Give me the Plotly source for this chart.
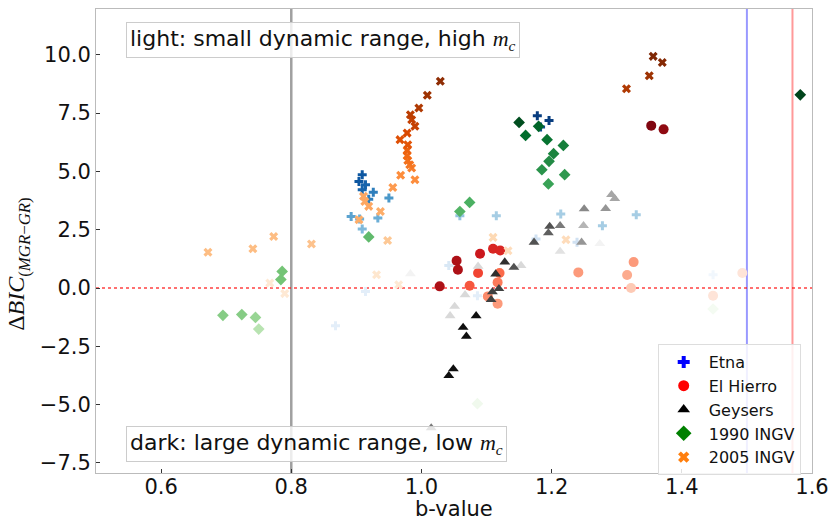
import plotly.graph_objects as go

# ---------------- data ----------------
etna_b = [1.178, 1.196, 1.183, 0.909, 0.904, 0.914, 0.909, 0.926, 0.919, 0.950, 0.892, 0.905, 0.933,
          0.909, 1.059, 1.115, 1.214, 1.278, 1.330, 1.176, 1.239, 1.042, 0.914, 0.868, 1.086, 1.448]
etna_d = [7.38, 7.18, 6.90, 4.86, 4.57, 4.43, 4.21, 4.10, 3.81, 3.86, 3.07, 2.96, 3.00,
          2.53, 3.10, 3.10, 3.17, 2.67, 3.14, 2.10, 1.96, 0.96, -0.15, -1.62, -0.33, 0.57]
etna_s = [0.95, 0.95, 0.9, 0.85, 0.85, 0.8, 0.8, 0.7, 0.7, 0.6, 0.55, 0.5, 0.5,
          0.45, 0.4, 0.35, 0.35, 0.35, 0.35, 0.2, 0.2, 0.15, 0.1, 0.1, 0.1, 0.03]

hierro_b = [1.353, 1.372, 1.054, 1.056, 1.028, 1.090, 1.110, 1.121, 1.087, 1.074, 1.120, 1.117, 1.102,
            1.117, 1.326, 1.241, 1.316, 1.322, 1.493, 1.448]
hierro_d = [6.96, 6.80, 1.17, 0.78, 0.07, 1.47, 1.68, 1.61, 0.64, 0.10, 0.64, 0.24, -0.36,
            -0.67, 1.11, 0.67, 0.56, 0.00, 0.64, -0.33]
hierro_s = [0.95, 0.92, 0.85, 0.85, 0.85, 0.75, 0.7, 0.7, 0.6, 0.55, 0.5, 0.45, 0.4,
            0.35, 0.35, 0.35, 0.3, 0.2, 0.1, 0.1]

geys_b = [1.049, 1.042, 1.084, 1.064, 1.069, 1.128, 1.114, 1.119, 1.109, 1.107, 1.142, 1.173, 1.197,
          1.195, 1.015, 1.213, 1.250, 1.283, 1.292, 1.297, 1.246, 1.249, 1.153, 1.087, 1.067, 1.051,
          1.044, 1.213, 1.274, 0.983]
geys_d = [-3.47, -3.76, -1.19, -1.69, -2.07, 1.11, 0.60, -0.03, -0.17, -0.50, 0.88, 1.96, 2.64,
          2.36, -6.0, 2.67, 3.39, 3.40, 4.00, 3.83, 1.96, 2.67, 0.96, 0.93, -0.29, -0.79,
          -1.19, 1.57, 1.90, 0.61]
geys_s = [0.95, 0.95, 0.95, 0.95, 0.95, 0.85, 0.85, 0.8, 0.8, 0.8, 0.75, 0.75, 0.75,
          0.7, 0.6, 0.6, 0.55, 0.5, 0.45, 0.45, 0.5, 0.4, 0.25, 0.25, 0.25, 0.25,
          0.25, 0.2, 0.1, 0.1]

ingv90_b = [1.582, 1.150, 1.180, 1.160, 1.193, 1.218, 1.203, 1.196, 1.185, 1.220, 1.195, 1.074, 1.059,
            0.919, 0.786, 0.784, 0.695, 0.724, 0.745, 0.750, 1.086, 1.448]
ingv90_d = [8.28, 7.10, 6.93, 6.54, 6.36, 6.11, 5.76, 5.43, 5.07, 4.86, 4.46, 3.67, 3.28,
            2.19, 0.71, 0.36, -1.17, -1.14, -1.26, -1.76, -4.96, -0.90]
ingv90_s = [1.0, 0.97, 0.9, 0.87, 0.85, 0.8, 0.78, 0.75, 0.72, 0.7, 0.66, 0.6, 0.58,
            0.55, 0.5, 0.5, 0.45, 0.45, 0.4, 0.3, 0.05, 0.02]

ingv05_b = [1.356, 1.370, 1.029, 1.350, 1.009, 1.315, 0.996, 0.983, 0.985, 0.990, 0.978, 0.967, 0.979,
            0.978, 0.978, 0.979, 0.982, 0.985, 0.968, 0.990, 0.956, 0.911, 0.913, 0.919, 0.937, 0.904,
            0.948, 1.110, 1.133, 1.222, 0.672, 0.741, 0.773, 0.831, 0.931, 0.965, 0.767, 0.790]
ingv05_d = [9.93, 9.67, 8.86, 9.10, 8.26, 8.54, 7.72, 7.43, 7.21, 6.93, 6.64, 6.36, 6.14,
            5.90, 5.67, 5.47, 5.28, 5.14, 4.83, 4.64, 4.31, 3.93, 3.71, 3.50, 3.28, 2.93,
            2.04, 2.17, 1.60, 2.07, 1.53, 1.68, 2.21, 1.89, 0.57, 0.14, 0.21, -0.24]
ingv05_s = [1.0, 0.98, 0.95, 0.9, 0.9, 0.85, 0.85, 0.82, 0.8, 0.8, 0.75, 0.72, 0.7,
            0.65, 0.62, 0.6, 0.58, 0.55, 0.5, 0.5, 0.45, 0.4, 0.4, 0.4, 0.38, 0.38,
            0.28, 0.2, 0.18, 0.18, 0.32, 0.32, 0.32, 0.3, 0.12, 0.1, 0.1, 0.1]

x_ticks = [0.6, 0.8, 1.0, 1.2, 1.4, 1.6]
x_ticktext = ["0.6", "0.8", "1.0", "1.2", "1.4", "1.6"]
y_ticks = [-7.5, -5.0, -2.5, 0.0, 2.5, 5.0, 7.5, 10.0]
y_ticktext = ["\u22127.5", "\u22125.0", "\u22122.5", "0.0", "2.5", "5.0", "7.5", "10.0"]

b_lines = [0.8, 1.5, 1.57]

series = [
    ("Etna", etna_b, etna_d, etna_s, "cross", 7.5, "Blues", "#0000ff", 10),
    ("El Hierro", hierro_b, hierro_d, hierro_s, "circle", 10, "Reds", "#ff0000", 11),
    ("Geysers", geys_b, geys_d, geys_s, "triangle-up", 9.5, "Greys", "#000000", 11),
    ("1990 INGV", ingv90_b, ingv90_d, ingv90_s, "diamond", 9, "Greens", "#008000", 12),
    ("2005 INGV", ingv05_b, ingv05_d, ingv05_s, "x", 8, "Oranges", "#ff7f0e", 10),
]

FONT = "DejaVu Sans"
SERIF = "Liberation Serif"

fig = go.Figure()
for name, bx, dy, sh, sym, size, cmap, lc, lsize in series:
    order = sorted(range(len(sh)), key=lambda i: sh[i])
    fig.add_trace(go.Scatter(
        x=[bx[i] for i in order], y=[dy[i] for i in order], mode="markers",
        marker=dict(symbol=sym, size=size, color=[sh[i] for i in order],
                    colorscale=cmap, cmin=0, cmax=1, line=dict(width=0)),
        showlegend=False, name=name))
for name, bx, dy, sh, sym, size, cmap, lc, lsize in series:
    fig.add_trace(go.Scatter(
        x=[None], y=[None], mode="markers", name=name,
        marker=dict(symbol=sym, size=lsize, color=lc)))

shapes = [
    dict(type="line", xref="x", yref="paper", x0=b_lines[0], x1=b_lines[0], y0=0, y1=1,
         line=dict(color="rgba(128,128,128,0.75)", width=2.5), layer="below"),
    dict(type="line", xref="x", yref="paper", x0=b_lines[1], x1=b_lines[1], y0=0, y1=1,
         line=dict(color="rgba(0,0,255,0.4)", width=2), layer="below"),
    dict(type="line", xref="x", yref="paper", x0=b_lines[2], x1=b_lines[2], y0=0, y1=1,
         line=dict(color="rgba(255,0,0,0.4)", width=2), layer="below"),
    dict(type="line", xref="paper", yref="y", x0=0, x1=1, y0=0, y1=0,
         line=dict(color="rgba(255,0,0,0.75)", width=1.5, dash="dot"), layer="below"),
]

mc = '<span style="font-family:Liberation Serif"><i>m</i><sub><i>c</i></sub></span>'
annotations = [
    dict(text="light: small dynamic range, high " + mc, xref="paper", yref="paper",
         x=0.042, y=0.972, xanchor="left", yanchor="top", showarrow=False,
         font=dict(family=FONT, size=22, color="#111"), bgcolor="rgba(255,255,255,0.8)",
         bordercolor="#cccccc", borderwidth=1, borderpad=3),
    dict(text="dark: large dynamic range, low " + mc, xref="paper", yref="paper",
         x=0.042, y=0.101, xanchor="left", yanchor="top", showarrow=False,
         font=dict(family=FONT, size=22, color="#111"), bgcolor="rgba(255,255,255,0.8)",
         bordercolor="#cccccc", borderwidth=1, borderpad=3),
    dict(text="\u0394<i>BIC</i><sub>(<i>MGR</i>\u2212<i>GR</i>)</sub>", xref="paper", yref="paper",
         x=-0.108, y=0.45, xanchor="center", yanchor="middle", textangle=-90, showarrow=False,
         font=dict(family=SERIF, size=24, color="#111")),
    dict(text="b-value", xref="paper", yref="paper", x=0.5, y=-0.047,
         xanchor="center", yanchor="top", showarrow=False,
         font=dict(family=FONT, size=21, color="#111")),
]

fig.update_layout(
    width=830, height=522,
    margin=dict(l=96, r=18, t=9, b=49),
    paper_bgcolor="white", plot_bgcolor="white",
    font=dict(family=FONT, size=21, color="#111"),
    shapes=shapes, annotations=annotations,
    legend=dict(x=0.7845, y=0.278, xanchor="left", yanchor="top", itemwidth=40,
                bgcolor="rgba(255,255,255,0.85)", bordercolor="#dddddd", borderwidth=1,
                font=dict(family=FONT, size=16, color="#111"), tracegroupgap=0),
    xaxis=dict(range=[0.5, 1.6], tickvals=x_ticks, ticktext=x_ticktext, showgrid=False,
               zeroline=False, showline=True, mirror=True, linecolor="#bbbbbb", linewidth=1,
               ticks="inside", ticklen=4, tickcolor="#333", tickfont=dict(size=21),
               automargin=False, ticklabelstandoff=-5),
    yaxis=dict(range=[-7.93, 11.96], tickvals=y_ticks, ticktext=y_ticktext, showgrid=False,
               zeroline=False, showline=True, mirror=True, linecolor="#bbbbbb", linewidth=1,
               ticks="inside", ticklen=4, tickcolor="#333", tickfont=dict(size=21),
               automargin=False),
)

fig.write_html("out.html")
